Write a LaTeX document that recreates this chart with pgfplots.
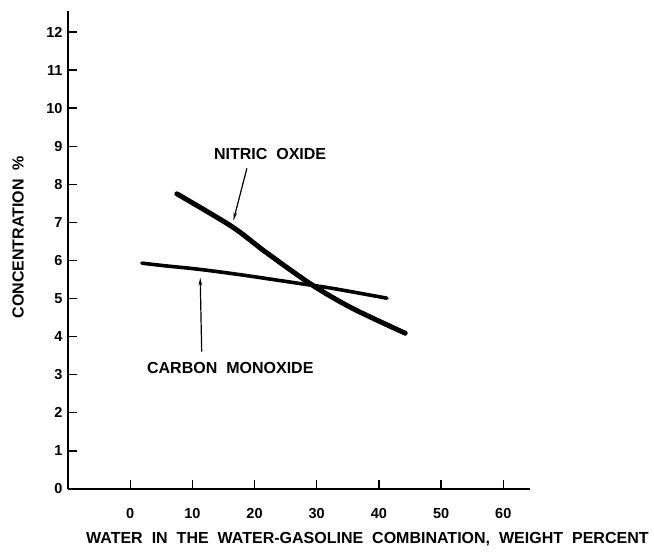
\documentclass[border=0pt]{standalone}
\usepackage{pgfplots}
\pgfplotsset{compat=1.18}
\usetikzlibrary{arrows.meta}
\usepackage{fontspec}
\setmainfont{Liberation Sans}
\newcommand{\gap}{\hspace{9pt}}
\begin{document}
\begin{tikzpicture}[x=1pt,y=1pt]
\useasboundingbox (0,0) rectangle (654,560);
\begin{axis}[
  at={(68pt,71pt)}, anchor=south west,
  scale only axis, width=462pt, height=478pt,
  xmin=-10, xmax=64.3, ymin=0, ymax=12.55,
  axis lines=left, axis line style={line width=1.6pt, -},
  xtick={0,10,...,60}, ytick={0,1,...,12},
  tick align=inside, major tick length=9pt,
  tick style={line width=1.3pt, black},
  /pgf/number format/assume math mode=true,
  ticklabel style={font=\bfseries\fontsize{14.5}{16}\selectfont},
  xticklabel style={yshift=-16pt},
  yticklabel style={xshift=-2pt},
  label style={font=\bfseries\fontsize{16}{18}\selectfont},
  xlabel={WATER\gap IN\gap THE\gap WATER-GASOLINE\gap COMBINATION,\gap WEIGHT\gap PERCENT},
  ylabel={CONCENTRATION\gap\%},
  xlabel style={at={(axis description cs:0.648,-0.105)}, anchor=center},
  ylabel style={at={(axis description cs:-0.108,0.527)}, anchor=center, rotate=0},
  clip=false,
]
\addplot[line width=5pt, line cap=round, line join=round, black, smooth, tension=0.5] coordinates {
  (7.51,7.75) (16.36,6.89) (21.71,6.23) (29.23,5.36) (35.66,4.75) (44.23,4.09)
};
\addplot[line width=3.6pt, line cap=round, line join=round, black, smooth, tension=0.5] coordinates {
  (1.88,5.93) (5.63,5.86) (10.99,5.77) (17.97,5.62) (27.07,5.40) (32.44,5.27) (41.29,5.01)
};
\node[font=\bfseries\fontsize{16}{18}\selectfont] at (axis cs:22.5,8.80) {NITRIC\gap OXIDE};
\draw[line width=1.2pt, -{Stealth[length=8pt,width=3.5pt]}] (axis cs:18.77,8.42) -- (axis cs:16.6,7.05);
\node[font=\bfseries\fontsize{16}{18}\selectfont] at (axis cs:16.1,3.18) {CARBON\gap MONOXIDE};
\draw[line width=1.2pt, -{Stealth[length=8pt,width=3.5pt]}] (axis cs:11.5,3.61) -- (axis cs:11.26,5.55);
\end{axis}
\end{tikzpicture}
\end{document}
